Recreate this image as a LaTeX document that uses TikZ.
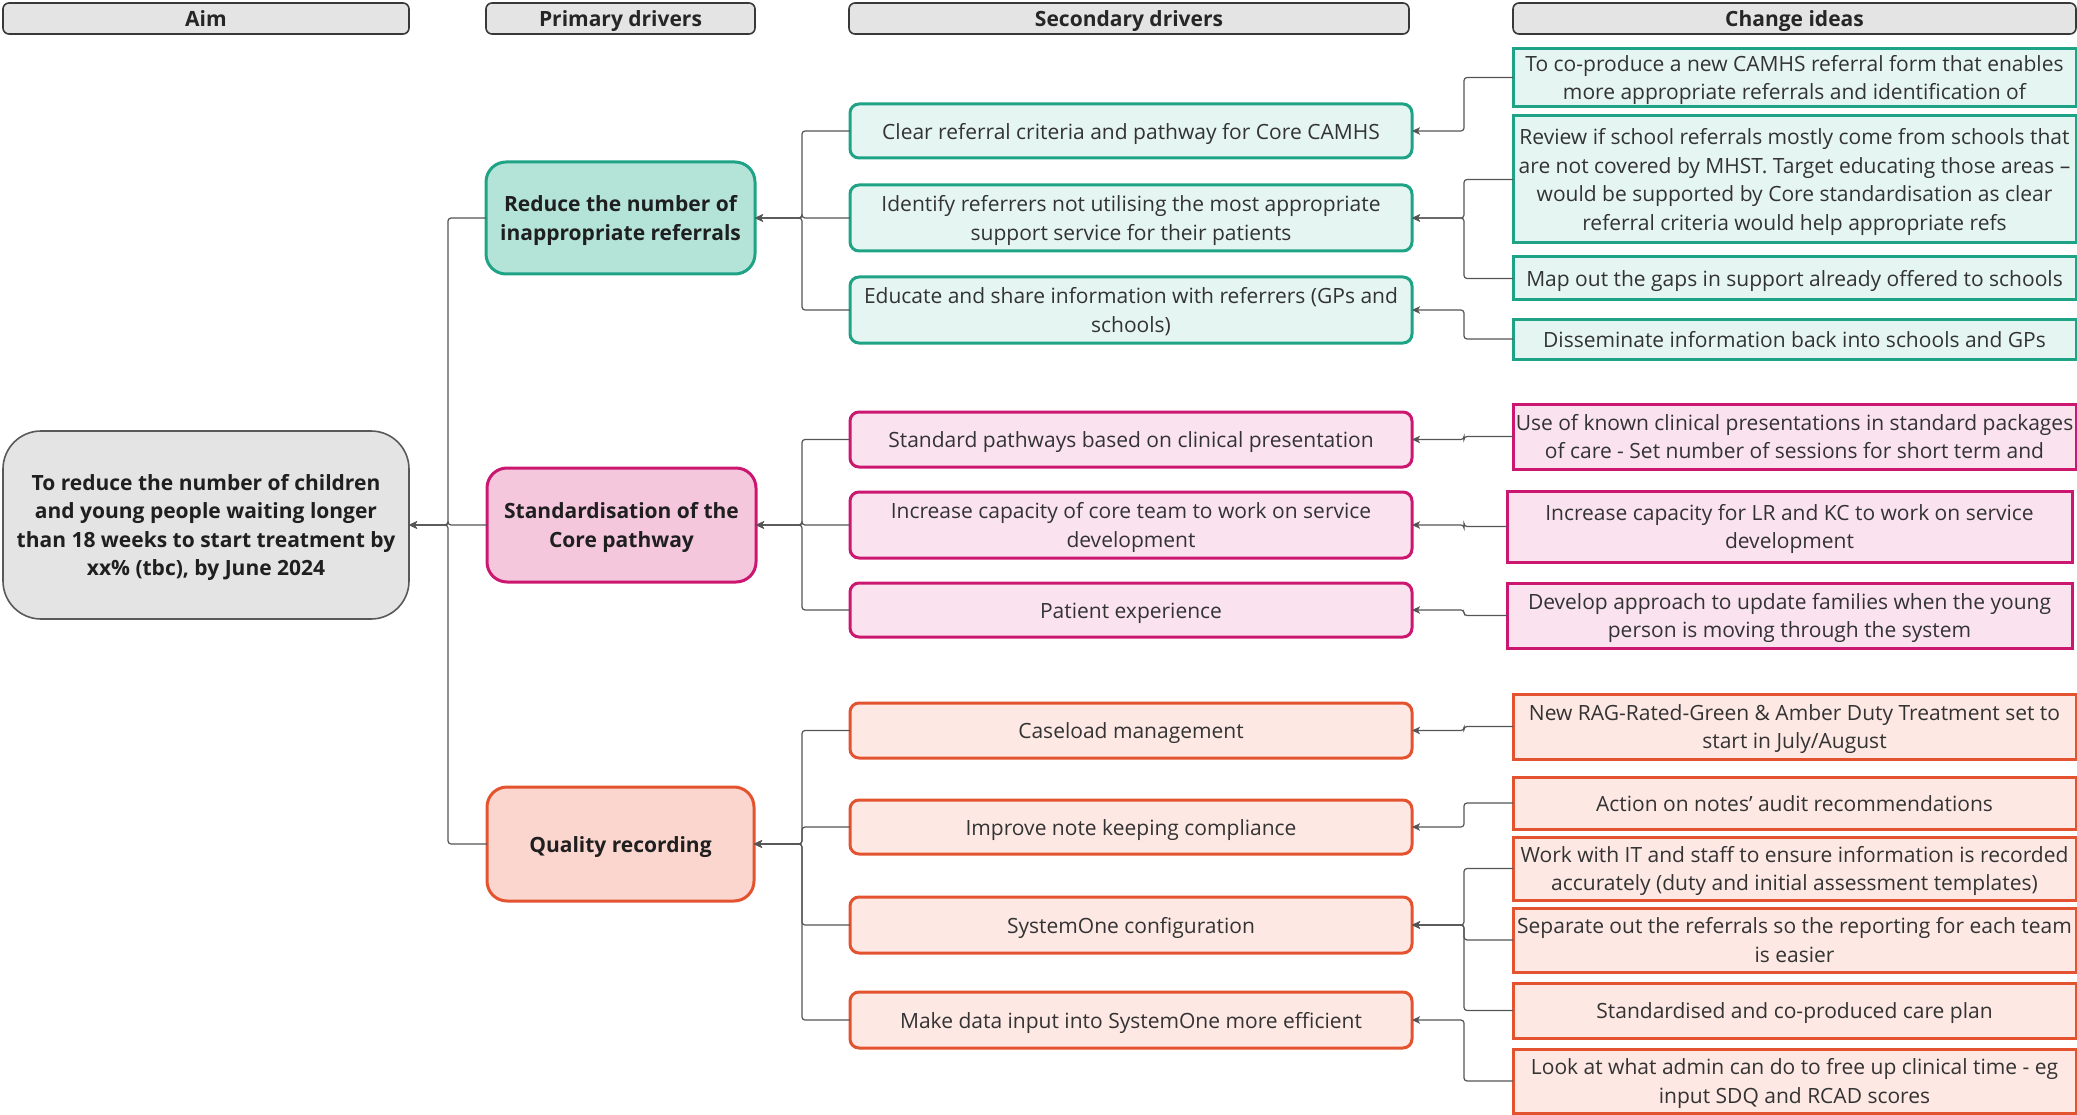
\documentclass[tikz,border=0pt]{standalone}
\usepackage{fontspec}
\setmainfont{Open Sans}
\usetikzlibrary{arrows.meta}
\definecolor{tealB}{HTML}{1FA386}
\definecolor{tealP}{HTML}{B4E3D8}
\definecolor{tealS}{HTML}{E5F5F1}
\definecolor{pinkB}{HTML}{CC1770}
\definecolor{pinkP}{HTML}{F5C7DD}
\definecolor{pinkS}{HTML}{FAE3EE}
\definecolor{oraB}{HTML}{E4532F}
\definecolor{oraP}{HTML}{FAD6CF}
\definecolor{oraS}{HTML}{FDE8E4}
\definecolor{grayF}{HTML}{E4E4E4}
\definecolor{lineC}{HTML}{555555}
\definecolor{txtC}{HTML}{333333}
\newcommand\bx[7]{\node[#2, minimum width={#5-#3}, minimum height={#6-#4}] (#1) at ({(#3+#5)/2},{(#4+#6)/2}) {\rule{0pt}{1.07em}#7\rule[-0.29em]{0pt}{0pt}};}
\tikzset{
  base/.style={inner sep=0pt, outer sep=0pt, align=center, text=txtC, font=\fontsize{21}{28.5}\selectfont},
  hdr/.style={base, draw=black!78, line width=1.6pt, fill=grayF, rounded corners=6pt, font=\fontsize{21}{24}\selectfont\bfseries, text=black!85},
  aimbox/.style={base, draw=black!65, line width=1.6pt, fill=grayF, rounded corners=38pt, font=\fontsize{21}{28.5}\selectfont\bfseries, text=black!88},
  prim/.style={base, line width=3pt, rounded corners=20pt, font=\fontsize{21}{28.5}\selectfont\bfseries, text=black!88},
  sec/.style={base, line width=3pt, rounded corners=9pt},
  chg/.style={base, line width=3pt},
  tP/.style={prim, draw=tealB, fill=tealP},
  tS/.style={sec, draw=tealB, fill=tealS},
  tC/.style={chg, draw=tealB, fill=tealS},
  pP/.style={prim, draw=pinkB, fill=pinkP},
  pS/.style={sec, draw=pinkB, fill=pinkS},
  pC/.style={chg, draw=pinkB, fill=pinkS},
  oP/.style={prim, draw=oraB, fill=oraP},
  oS/.style={sec, draw=oraB, fill=oraS},
  oC/.style={chg, draw=oraB, fill=oraS},
  ln/.style={draw=lineC, line width=1.2pt, rounded corners=3pt},
  conn/.style={ln, -{Stealth[length=8pt,width=7.5pt,inset=2pt]}},
}
\begin{document}
\begin{tikzpicture}[x=1pt,y=-1pt]
\useasboundingbox (0,0) rectangle (2077,1115);
\coordinate (lx) at (448,0);
\coordinate (tx) at (802,0);
\coordinate (jx) at (1464,0);
% headers
\bx{hA}{hdr}{3}{3}{409}{34}{Aim}
\bx{hP}{hdr}{486}{3}{755}{34}{Primary drivers}
\bx{hS}{hdr}{849}{3}{1409}{34}{Secondary drivers}
\bx{hC}{hdr}{1513}{3}{2076}{34}{Change ideas}
% aim
\bx{aim}{aimbox}{3}{431}{409}{619}{To reduce the number of children\\and young people waiting longer\\than 18 weeks to start treatment by\\xx\% (tbc), by June 2024}
% primary
\bx{pd1}{tP}{486}{162}{755}{274}{Reduce the number of\\inappropriate referrals}
\bx{pd2}{pP}{487}{468}{756}{582}{Standardisation of the\\Core pathway}
\bx{pd3}{oP}{487}{787}{754}{901}{Quality recording}
% secondary
\bx{sd1}{tS}{850}{104}{1412}{158}{Clear referral criteria and pathway for Core CAMHS}
\bx{sd2}{tS}{850}{185}{1412}{251}{Identify referrers not utilising the most appropriate\\support service for their patients}
\bx{sd3}{tS}{850}{277}{1412}{343}{Educate and share information with referrers (GPs and\\schools)}
\bx{sd4}{pS}{850}{412}{1412}{467}{Standard pathways based on clinical presentation}
\bx{sd5}{pS}{850}{492}{1412}{558}{Increase capacity of core team to work on service\\development}
\bx{sd6}{pS}{850}{583}{1412}{637}{Patient experience}
\bx{sd7}{oS}{850}{703}{1412}{758}{Caseload management}
\bx{sd8}{oS}{850}{800}{1412}{854}{Improve note keeping compliance}
\bx{sd9}{oS}{850}{897}{1412}{953}{SystemOne configuration}
\bx{sd10}{oS}{850}{992}{1412}{1048}{Make data input into SystemOne more efficient}
% change ideas
\bx{ci1}{tC}{1513}{49}{2076}{106}{To co-produce a new CAMHS referral form that enables\\more appropriate referrals and identification of}
\bx{ci2}{tC}{1513}{116}{2076}{243}{Review if school referrals mostly come from schools that\\are not covered by MHST. Target educating those areas –\\would be supported by Core standardisation as clear\\referral criteria would help appropriate refs}
\bx{ci3}{tC}{1513}{257}{2076}{300}{Map out the gaps in support already offered to schools}
\bx{ci4}{tC}{1513}{319}{2076}{359}{Disseminate information back into schools and GPs}
\bx{ci5}{pC}{1513}{404}{2076}{469}{Use of known clinical presentations in standard packages\\of care - Set number of sessions for short term and}
\bx{ci6}{pC}{1507}{491}{2072}{562}{Increase capacity for LR and KC to work on service\\development}
\bx{ci7}{pC}{1507}{583}{2072}{648}{Develop approach to update families when the young\\person is moving through the system}
\bx{ci8}{oC}{1513}{694}{2076}{759}{New RAG-Rated-Green \& Amber Duty Treatment set to\\start in July/August}
\bx{ci9}{oC}{1513}{777}{2076}{829}{Action on notes' audit recommendations}
\bx{ci10}{oC}{1513}{837}{2076}{900}{Work with IT and staff to ensure information is recorded\\accurately (duty and initial assessment templates)}
\bx{ci11}{oC}{1513}{908}{2076}{972}{Separate out the referrals so the reporting for each team\\is easier}
\bx{ci12}{oC}{1513}{983}{2076}{1038}{Standardised and co-produced care plan}
\bx{ci13}{oC}{1513}{1049}{2076}{1113}{Look at what admin can do to free up clinical time - eg\\input SDQ and RCAD scores}
% primary -> aim
\foreach \p in {pd1,pd2,pd3}
  \draw[conn] (\p.west) -- (\p.west -| lx) |- (aim.east);
% secondary -> primary
\foreach \s/\p in {sd1/pd1,sd2/pd1,sd3/pd1,sd4/pd2,sd5/pd2,sd6/pd2,sd7/pd3,sd8/pd3,sd9/pd3,sd10/pd3}
  \draw[conn] (\s.west) -- (\s.west -| tx) |- (\p.east);
% change ideas -> secondary
\foreach \c/\s in {ci1/sd1,ci2/sd2,ci3/sd2,ci4/sd3,ci5/sd4,ci6/sd5,ci7/sd6,ci8/sd7,ci9/sd8,ci10/sd9,ci11/sd9,ci12/sd9,ci13/sd10}
  \draw[conn] (\c.west) -- (\c.west -| jx) |- (\s.east);
\end{tikzpicture}
\end{document}
